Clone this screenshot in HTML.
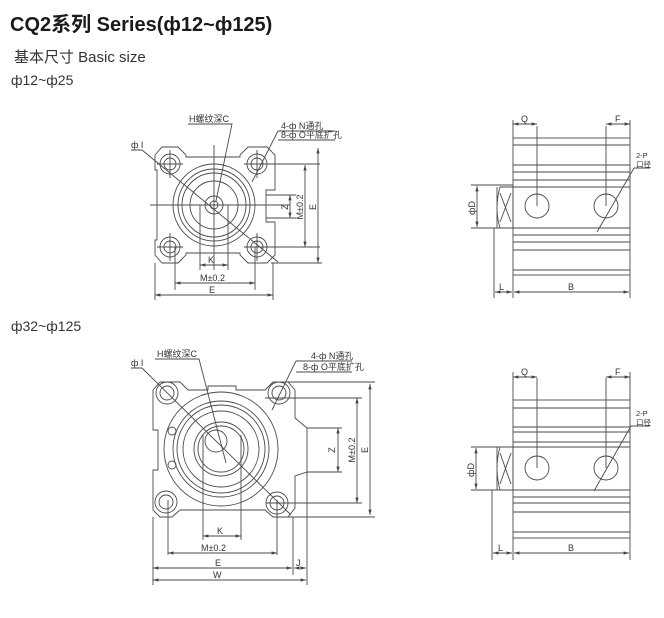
<!DOCTYPE html>
<html><head><meta charset="utf-8"><style>
html,body{margin:0;padding:0;background:#fff;}
body{width:664px;height:618px;position:relative;overflow:hidden;font-family:"Liberation Sans","Noto Sans CJK SC",sans-serif;color:#222;}
.t{position:absolute;white-space:nowrap;}
svg{position:absolute;left:0;top:0;}
svg text{font-family:"Liberation Sans","Noto Sans CJK SC",sans-serif;fill:#333;}
</style></head><body>
<div class="t" style="left:10px;top:8px;font-size:20px;font-weight:bold;color:#1a1a1a;">CQ2系列 Series(ф12~ф125)</div>
<div class="t" style="left:14px;top:46px;font-size:15px;color:#333;">基本尺寸 Basic size</div>
<div class="t" style="left:11px;top:72px;font-size:14px;color:#333;">ф12~ф25</div>
<div class="t" style="left:11px;top:318px;font-size:14px;color:#333;">ф32~ф125</div>
<svg width="664" height="618" viewBox="0 0 664 618">
<defs>
<marker id="a" viewBox="0 0 10 10" refX="10" refY="5" markerWidth="6" markerHeight="6" orient="auto-start-reverse"><path d="M0,2 L10,5 L0,8 z" fill="#444"/></marker>
</defs>
<g stroke="#4a4a4a" stroke-width="0.9" fill="none">
<path d="M162,147 H178 L186,155 V157 H240 V155 L248,147 H267 L275,155 V190 H266 V222 H275 V255 L267,263 H248 L240,255 V253 H186 V255 L178,263 H162 L155,255 V240 H157 V170 H155 V155 Z"/>
<circle cx="214" cy="205" r="41"/><circle cx="214" cy="205" r="36"/><circle cx="214" cy="205" r="32"/><circle cx="214" cy="205" r="24"/><circle cx="214" cy="205" r="9"/><circle cx="214" cy="205" r="4"/>
<circle cx="170" cy="164" r="10"/><circle cx="170" cy="164" r="6"/>
<circle cx="257" cy="164" r="10"/><circle cx="257" cy="164" r="6"/>
<circle cx="170" cy="247" r="10"/><circle cx="170" cy="247" r="6"/>
<circle cx="257" cy="247" r="10"/><circle cx="257" cy="247" r="6"/>
<path d="M150,205 H290 M214,145 V270 M157,164 H183 M170,150 V178 M244,164 H320 M257,150 V178 M157,247 H183 M170,233 V261 M244,247 H320 M257,233 V261"/>
<path d="M266,195 H296 M266,218 H296 M271,263 H322"/>
<path d="M200,205 V270 M228,205 V270 M175,247 V290 M255,247 V290 M155,263 V300 M273,263 V300"/>
<path d="M290,195 V218" marker-start="url(#a)" marker-end="url(#a)"/>
<path d="M305,165 V247" marker-start="url(#a)" marker-end="url(#a)"/>
<path d="M318,148 V263" marker-start="url(#a)" marker-end="url(#a)"/>
<path d="M200,265 H228" marker-start="url(#a)" marker-end="url(#a)"/>
<path d="M175,283 H255" marker-start="url(#a)" marker-end="url(#a)"/>
<path d="M155,295 H273" marker-start="url(#a)" marker-end="url(#a)"/>
<path d="M131,150 H142 L278,262"/>
<path d="M188,124 H232 L216,201"/>
<path d="M278,131 H335 M278,140 H335 M278,131 L252,182"/>
<path d="M160,382 H180 L188,390 H208 V386 H236 V390 H265 L273,382 H288 L295,390 V418 L307,428 V472 L295,476 V508 L288,517 H273 L265,510 H180 L172,517 H160 L153,510 V470 H158 V430 H153 V390 Z"/>
<circle cx="221" cy="449" r="57"/><circle cx="221" cy="449" r="48"/><circle cx="221" cy="449" r="44"/><circle cx="221" cy="449" r="38"/><circle cx="221" cy="449" r="27"/><circle cx="221" cy="449" r="23"/><circle cx="216" cy="441" r="11"/>
<circle cx="167" cy="393" r="11"/><circle cx="167" cy="393" r="7"/>
<circle cx="279" cy="393" r="11"/><circle cx="279" cy="393" r="7"/>
<circle cx="166" cy="502" r="11"/><circle cx="166" cy="502" r="7"/>
<circle cx="277" cy="503" r="11"/><circle cx="277" cy="503" r="7"/>
<circle cx="172" cy="431" r="4"/><circle cx="172" cy="465" r="4"/>
<path d="M203,435 V540 M241,435 V540 M168,500 V555 M277,500 V555 M153,517 V585 M293,517 V575 M307,472 V585"/>
<path d="M265,398 H362 M266,503 H362 M288,382 H375 M288,517 H375 M307,428 H342 M307,472 H342"/>
<path d="M338,428 V472" marker-start="url(#a)" marker-end="url(#a)"/>
<path d="M357,398 V503" marker-start="url(#a)" marker-end="url(#a)"/>
<path d="M370,384 V515" marker-start="url(#a)" marker-end="url(#a)"/>
<path d="M203,536 H241" marker-start="url(#a)" marker-end="url(#a)"/>
<path d="M168,553 H277" marker-start="url(#a)" marker-end="url(#a)"/>
<path d="M153,568 H292" marker-start="url(#a)" marker-end="url(#a)"/>
<path d="M294,568 H306" marker-start="url(#a)" marker-end="url(#a)"/>
<path d="M153,580 H306" marker-start="url(#a)" marker-end="url(#a)"/>
<path d="M131,368 H142 L291,515"/>
<path d="M155,359 H199 L226,463"/>
<path d="M296,361 H352 M296,372 H352 M296,361 L272,410"/>
<rect x="513" y="138" width="117" height="137"/>
<path d="M513,145 H630 M513,165 H630 M513,172 H630 M513,180 H630 M513,187 H630 M513,228 H630 M513,235 H630 M513,242 H630 M513,250 H630 M513,270 H630"/>
<path d="M500,187 H513 V228 H500 Q494,208 500,187 Z M497,187 V228 M500,193 L511,222 M511,193 L500,222"/>
<circle cx="537" cy="206" r="12"/><circle cx="606" cy="206" r="12"/>
<path d="M537,126 V206 M606,126 V206 M513,120 V138 M630,120 V138 M494,228 V298 M513,275 V298 M630,275 V298 M471,185 H513 M471,228 H500 M634,168 H650 M634,168 L597,232"/>
<path d="M513,124 H537" marker-start="url(#a)" marker-end="url(#a)"/>
<path d="M606,124 H630" marker-start="url(#a)" marker-end="url(#a)"/>
<path d="M477,186 V227" marker-start="url(#a)" marker-end="url(#a)"/>
<path d="M495,292 H512" marker-start="url(#a)" marker-end="url(#a)"/>
<path d="M514,292 H629" marker-start="url(#a)" marker-end="url(#a)"/>
<rect x="513" y="400" width="117" height="138"/>
<path d="M513,408 H630 M513,427 H630 M513,432 H630 M513,442 H630 M513,447 H630 M513,490 H630 M513,497 H630 M513,503 H630 M513,512 H630 M513,532 H630"/>
<path d="M500,447 H513 V490 H500 Q494,468 500,447 Z M497,447 V490 M500,453 L511,484 M511,453 L500,484"/>
<circle cx="537" cy="468" r="12"/><circle cx="606" cy="468" r="12"/>
<path d="M537,378 V468 M606,378 V468 M513,372 V400 M630,372 V400 M492,490 V560 M513,538 V560 M630,538 V560 M471,447 H513 M471,490 H500 M631,426 H650 M631,426 L594,491"/>
<path d="M513,377 H537" marker-start="url(#a)" marker-end="url(#a)"/>
<path d="M606,377 H630" marker-start="url(#a)" marker-end="url(#a)"/>
<path d="M476,448 V489" marker-start="url(#a)" marker-end="url(#a)"/>
<path d="M493,553 H512" marker-start="url(#a)" marker-end="url(#a)"/>
<path d="M514,553 H629" marker-start="url(#a)" marker-end="url(#a)"/>
</g>
<g font-size="9">
<text x="189" y="122">H螺纹深C</text>
<text x="281" y="129">4-ф N通孔</text>
<text x="281" y="138">8-ф O平底扩孔</text>
<text x="131" y="148">ф I</text>
<text x="208" y="263">K</text>
<text x="200" y="281">M±0.2</text>
<text x="209" y="293">E</text>
<text transform="translate(288,207) rotate(-90)" text-anchor="middle">Z</text>
<text transform="translate(303,207) rotate(-90)" text-anchor="middle">M±0.2</text>
<text transform="translate(316,207) rotate(-90)" text-anchor="middle">E</text>
<text x="157" y="357">H螺纹深C</text>
<text x="311" y="359">4-ф N通孔</text>
<text x="303" y="370">8-ф O平底扩孔</text>
<text x="131" y="366">ф I</text>
<text x="217" y="534">K</text>
<text x="201" y="551">M±0.2</text>
<text x="215" y="566">E</text>
<text x="296" y="566">J</text>
<text x="213" y="578">W</text>
<text transform="translate(335,450) rotate(-90)" text-anchor="middle">Z</text>
<text transform="translate(355,450) rotate(-90)" text-anchor="middle">M±0.2</text>
<text transform="translate(368,450) rotate(-90)" text-anchor="middle">E</text>
<text x="521" y="122">Q</text><text x="615" y="122">F</text>
<text x="636" y="158" font-size="7.5">2-P</text><text x="636" y="167" font-size="7.5">口径</text>
<text transform="translate(475,208) rotate(-90)" text-anchor="middle">фD</text>
<text x="499" y="290">L</text><text x="568" y="290">B</text>
<text x="521" y="375">Q</text><text x="615" y="375">F</text>
<text x="636" y="416" font-size="7.5">2-P</text><text x="636" y="425" font-size="7.5">口径</text>
<text transform="translate(474,470) rotate(-90)" text-anchor="middle">фD</text>
<text x="498" y="551">L</text><text x="568" y="551">B</text>
</g>
</svg>
</body></html>
